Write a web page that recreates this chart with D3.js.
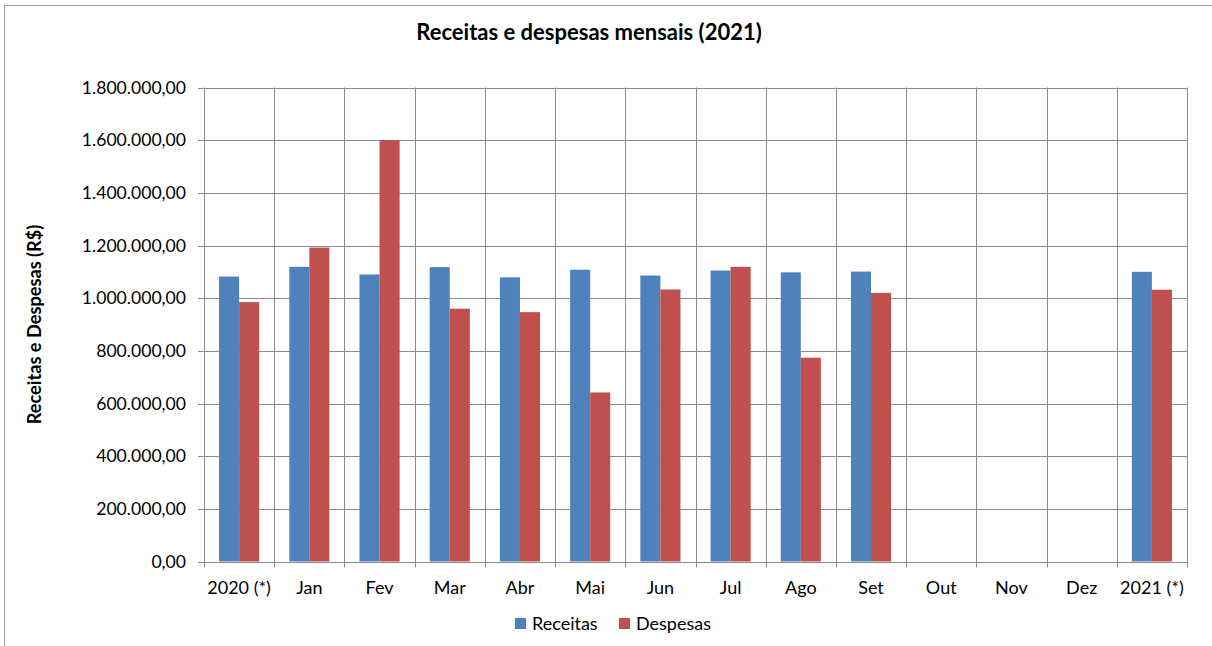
<!DOCTYPE html>
<html>
<head>
<meta charset="utf-8">
<script src="https://cdn.jsdelivr.net/npm/d3@7"></script>
<style>
  body { margin: 0; background: #fff; }
  svg text { font-family: Lato, "Open Sans", "Noto Sans", sans-serif; fill: #000; }
</style>
</head>
<body>
<div id="chart"></div>
<script>
// data
var categories = ["2020 (*)", "Jan", "Fev", "Mar", "Abr", "Mai", "Jun", "Jul", "Ago", "Set", "Out", "Nov", "Dez", "2021 (*)"];
var receitas = [1082000, 1119000, 1090000, 1118000, 1079000, 1108000, 1086000, 1105000, 1098000, 1101000, null, null, null, 1100000];
var despesas = [985000, 1192000, 1600000, 960000, 947000, 642000, 1033000, 1119000, 774000, 1020000, null, null, null, 1032000];
var seriesNames = ["Receitas", "Despesas"];
var yTicks = [0, 200000, 400000, 600000, 800000, 1000000, 1200000, 1400000, 1600000, 1800000];

var width = 1212, height = 646;
var colors = ["#4F81BD", "#C0504D"];
var margin = { top: 87.5, left: 204, right: 25, bottom: 84.5 };

var svg = d3.select("#chart").append("svg")
    .attr("width", width)
    .attr("height", height);

// outer frame
svg.append("rect")
    .attr("x", 4.5).attr("y", 5.5)
    .attr("width", width + 10).attr("height", height + 10)
    .attr("fill", "none").attr("stroke", "#a0a0a0");

var x = d3.scaleBand()
    .domain(categories)
    .range([margin.left, width - margin.right]);

var inner = d3.scaleBand()
    .domain(seriesNames)
    .range([0, x.bandwidth()])
    .paddingInner(0)
    .paddingOuter(0.75);

var y = d3.scaleLinear()
    .domain([0, 1800000])
    .range([height - margin.bottom, margin.top]);

var fmt = function(v) {
  return d3.format(",.2f")(v).replace(/,/g, "#").replace(/\./g, ",").replace(/#/g, ".");
};

// horizontal gridlines
svg.append("g")
  .selectAll("line")
  .data(yTicks)
  .enter().append("line")
    .attr("x1", margin.left - 6)
    .attr("x2", width - margin.right)
    .attr("y1", function(d) { return Math.round(y(d)) + 0.5; })
    .attr("y2", function(d) { return Math.round(y(d)) + 0.5; })
    .attr("stroke", "#8c8c8c")
    .attr("stroke-width", 1);

// vertical gridlines at category boundaries
var bounds = categories.map(function(c) { return x(c); }).concat([x(categories[categories.length - 1]) + x.bandwidth()]);
svg.append("g")
  .selectAll("line")
  .data(bounds)
  .enter().append("line")
    .attr("x1", function(d) { return Math.round(d) + 0.5; })
    .attr("x2", function(d) { return Math.round(d) + 0.5; })
    .attr("y1", margin.top)
    .attr("y2", height - margin.bottom + 6)
    .attr("stroke", "#8c8c8c")
    .attr("stroke-width", 1);

// y tick labels
svg.append("g")
  .selectAll("text")
  .data(yTicks)
  .enter().append("text")
    .attr("x", margin.left - 18)
    .attr("y", function(d) { return y(d); })
    .attr("dy", "0.35em")
    .attr("text-anchor", "end")
    .style("font-size", "17.6px")
    .text(fmt);

// bars
var rows = categories.map(function(c, i) {
  return { cat: c, values: [receitas[i], despesas[i]] };
});

var groups = svg.append("g")
  .selectAll("g")
  .data(rows)
  .enter().append("g")
    .attr("transform", function(d) { return "translate(" + x(d.cat) + ",0)"; });

groups.selectAll("rect")
  .data(function(d) {
    return d.values.map(function(v, i) { return { name: seriesNames[i], value: v, i: i }; })
      .filter(function(e) { return e.value != null; });
  })
  .enter().append("rect")
    .attr("x", function(d) { return inner(d.name); })
    .attr("width", inner.bandwidth())
    .attr("y", function(d) { return y(d.value); })
    .attr("height", function(d) { return y(0) - y(d.value); })
    .attr("fill", function(d) { return colors[d.i]; });

// x labels
svg.append("g")
  .selectAll("text")
  .data(categories)
  .enter().append("text")
    .attr("x", function(d) { return x(d) + x.bandwidth() / 2; })
    .attr("y", height - margin.bottom + 32)
    .attr("text-anchor", "middle")
    .style("font-size", "18px")
    .text(function(d) { return d; });

// title
svg.append("text")
    .attr("x", 589)
    .attr("y", 40)
    .attr("text-anchor", "middle")
    .style("font-size", "22px")
    .style("font-weight", "bold")
    .text("Receitas e despesas mensais (2021)");

// y axis title
svg.append("text")
    .attr("transform", "translate(41," + (margin.top + (height - margin.bottom - margin.top) / 2) + ") rotate(-90)")
    .attr("text-anchor", "middle")
    .style("font-size", "18.2px")
    .style("font-weight", "bold")
    .text("Receitas e Despesas (R$)");

// legend
var legend = svg.append("g")
  .selectAll("g")
  .data(seriesNames)
  .enter().append("g")
    .attr("transform", function(d, i) { return "translate(" + (515 + i * 104) + ",618)"; });

legend.append("rect")
    .attr("width", 11).attr("height", 11)
    .attr("fill", function(d, i) { return colors[i]; });

legend.append("text")
    .attr("x", 17)
    .attr("y", 6)
    .attr("dy", "0.35em")
    .style("font-size", "18px")
    .text(function(d) { return d; });
</script>
</body>
</html>
